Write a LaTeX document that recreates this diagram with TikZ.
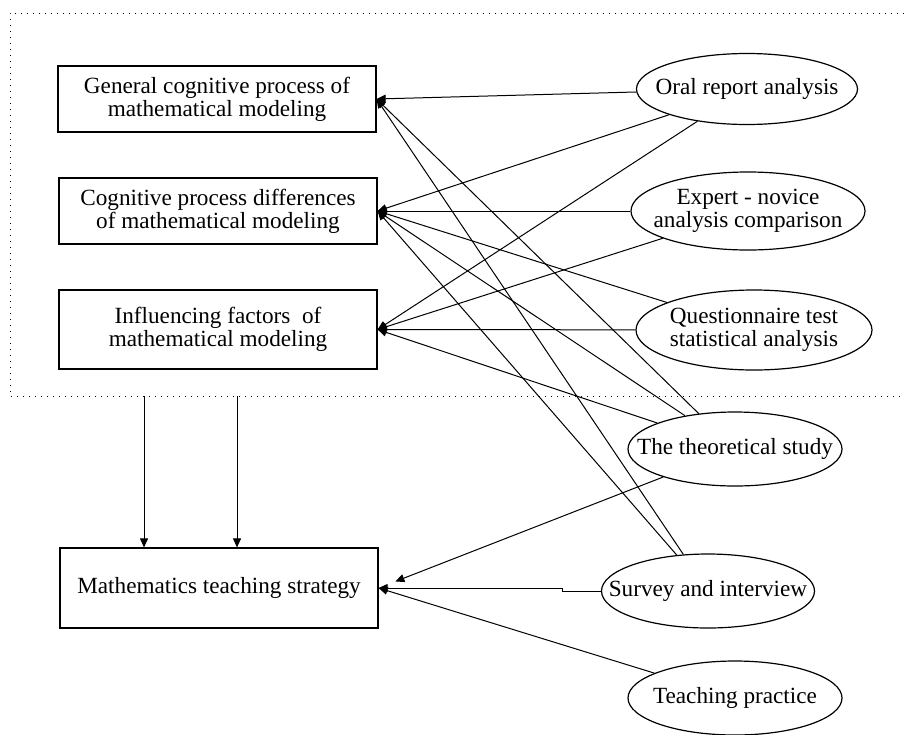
\documentclass[tikz,border=0pt]{standalone}
\usepackage{fontspec}
\setmainfont{Liberation Serif}
\usetikzlibrary{positioning,calc}
\usetikzlibrary{arrows.meta,shapes.geometric}
\tikzset{
  goal/.style={draw=black,line width=0.6pt,fill=white,inner sep=0pt,
    minimum width=159pt,minimum height=33pt,align=center,font=\fontsize{11.6}{11.5}\selectfont},
  method/.style={ellipse,draw=black,line width=0.6pt,fill=white,inner xsep=-20pt,inner ysep=0pt,
    align=center,font=\fontsize{11.6}{11.5}\selectfont},
}
\tikzset{link/.style={draw=black,line width=0.5pt,-{Triangle[length=4.5pt,width=4pt]}}, frame/.style={line width=0.5pt,dash pattern=on 0.5pt off 2.5pt}}

\begin{document}
\begin{tikzpicture}[x=0.5pt,y=-0.5pt]
\useasboundingbox (0,0) rectangle (904,734);
\draw[frame] (904,13)--(10,13)--(10,396)--(904,396);
\node[goal](gen) at (217,99){General cognitive process of\\mathematical modeling};
\node[goal](diff) at (218,211){Cognitive process differences\\of mathematical modeling};
\node[goal,minimum height=39.5pt](fac) at (218,329.5){Influencing factors\ \ of\\mathematical modeling};
\node[goal,minimum height=40pt](strat) at (219,588){Mathematics teaching strategy};
\node[method,minimum width=110.5pt,minimum height=35.5pt](oral) at (747,89){Oral report analysis};
\node[method,minimum width=117pt,minimum height=39pt](expert) at (748,211){Expert - novice\\analysis comparison};
\node[method,minimum width=118pt,minimum height=40pt](quest) at (754,330){Questionnaire test\\statistical analysis};
\node[method,minimum width=107pt,minimum height=37pt](theory) at (735,449){The theoretical study};
\node[method,minimum width=106.5pt,minimum height=37pt](survey) at (708,591){Survey and interview};
\node[method,minimum width=107pt,minimum height=37pt](teach) at (735,698){Teaching practice};
\draw[link] (oral)--(gen.east);\draw[link] (oral)--(diff.east);\draw[link] (oral)--(fac.east);
\draw[link] (expert)--(diff.east);\draw[link] (expert)--(fac.east);
\draw[link] (quest)--(diff.east);\draw[link] (quest)--(fac.east);
\draw[link] (theory)--(gen.east);\draw[link] (theory)--(diff.east);\draw[link] (theory)--(fac.east);
\draw[link,shorten >=9pt] (theory)--(strat.east);
\draw[link] (survey)--(gen.east);\draw[link] (survey)--(diff.east);
\coordinate (jog) at (562,591);
\draw[link] (survey.west)--(jog)--(jog|-strat.east)--(strat.east);
\draw[link] (teach)--(strat.east);
\coordinate (top1) at (144,396);\coordinate (top2) at (237,396);
\draw[link] (top1)--(top1|-strat.north);\draw[link] (top2)--(top2|-strat.north);
\end{tikzpicture}
\end{document}
